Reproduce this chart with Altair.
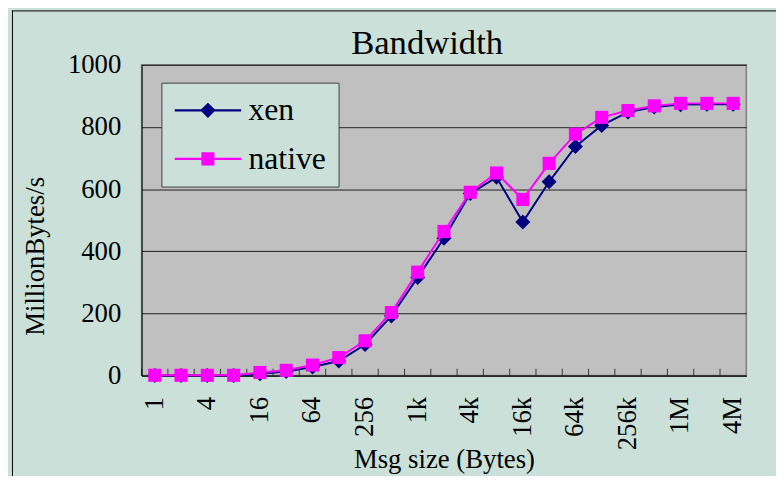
import altair as alt
import pandas as pd

# ---- data ----
sizes = ["1", "2", "4", "8", "16", "32", "64", "128", "256", "512",
         "1k", "2k", "4k", "8k", "16k", "32k", "64k", "128k", "256k", "512k",
         "1M", "2M", "4M"]
xen = [0, 0, 0, 0, 6, 13, 28, 47, 100, 192,
       316, 442, 586, 638, 494, 624, 737, 805, 848, 864,
       872, 873, 873]
native = [1, 1, 1, 1, 10, 17, 34, 58, 112, 203,
          333, 464, 590, 652, 567, 683, 777, 831, 853, 868,
          876, 876, 876]
series_names = ["xen", "native"]
shown_labels = ["1", "4", "16", "64", "256", "1k", "4k", "16k", "64k", "256k", "1M", "4M"]
y_ticks = [0, 200, 400, 600, 800, 1000]

# ---- styling ----
NAVY = "#000080"
MAGENTA = "#ff00ff"
BG = "#cbe0d8"
PLOT_BG = "#c0c0c0"
FONT = "Liberation Serif"

# legend glyphs: line segment + marker (filled paths)
PATH_XEN = ("M-1,-0.17H10.17V0.17H-1Z "
            "M4.585,-1.3L5.885,0L4.585,1.3L3.285,0Z")
PATH_NATIVE = ("M-1,-0.17H10.17V0.17H-1Z "
               "M3.485,-1.1H5.685V1.1H3.485Z")

df = pd.DataFrame({
    "size": sizes * 2,
    "value": xen + native,
    "series": ["xen"] * len(sizes) + ["native"] * len(sizes),
})

W, H = 611, 314

x_enc = alt.X(
    "size:N",
    sort=sizes,
    scale=alt.Scale(type="band", domain=sizes, paddingInner=0, paddingOuter=0),
    axis=alt.Axis(
        values=shown_labels,
        labelAngle=270, labelAlign="right", labelBaseline="middle",
        labelPadding=21, labelFont=FONT, labelFontSize=27, labelColor="black",
        ticks=False, grid=False, domainColor="black", domainWidth=1,
        title="Msg size (Bytes)", titleFont=FONT, titleFontSize=27,
        titleFontWeight="normal", titleColor="black",
        titleAlign="center", titleBaseline="alphabetic",
        titleX=W / 2, titleY=93,
    ),
)
y_enc = alt.Y(
    "value:Q",
    scale=alt.Scale(domain=[0, 1000], nice=False, zero=True),
    axis=alt.Axis(
        values=y_ticks, format="d",
        labelFont=FONT, labelFontSize=27, labelColor="black", labelPadding=21,
        ticks=False, grid=True, gridColor="#202020", gridWidth=1,
        domainColor="black", domainWidth=1,
        title="MillionBytes/s", titleFont=FONT, titleFontSize=27,
        titleFontWeight="normal", titleColor="black",
        titleAngle=270, titleAlign="center", titleBaseline="alphabetic",
        titleX=-99, titleY=193,
    ),
)

base = alt.Chart(df)

xen_line = base.transform_filter(alt.datum.series == "xen").mark_line(
    color=NAVY, strokeWidth=2).encode(x=x_enc, y=y_enc)
xen_pts = base.transform_filter(alt.datum.series == "xen").mark_point(
    shape="diamond", filled=True, size=230, color=NAVY, opacity=1).encode(x=x_enc, y=y_enc)
nat_line = base.transform_filter(alt.datum.series == "native").mark_line(
    color=MAGENTA, strokeWidth=2).encode(x=x_enc, y=y_enc)
nat_pts = base.transform_filter(alt.datum.series == "native").mark_point(
    shape="square", filled=True, size=175, color=MAGENTA, opacity=1).encode(x=x_enc, y=y_enc)

legend = alt.Legend(
    title=None, orient="none", legendX=20, legendY=18,
    fillColor=BG, strokeColor="#404040", padding=12,
    labelFont=FONT, labelFontSize=32, labelColor="black", labelOffset=52.5,
    symbolOffset=-8.5,
    symbolSize=144, symbolOpacity=1, symbolStrokeWidth=0, rowPadding=17,
)
legend_layer = base.mark_point(filled=True, opacity=0).encode(
    x=x_enc, y=y_enc,
    color=alt.Color("series:N", sort=series_names,
                    scale=alt.Scale(domain=series_names, range=[NAVY, MAGENTA]),
                    legend=legend),
    shape=alt.Shape("series:N", sort=series_names,
                    scale=alt.Scale(domain=series_names, range=[PATH_XEN, PATH_NATIVE]),
                    legend=legend),
)

# inward category ticks at band boundaries
ticks = alt.Chart(pd.DataFrame({"size": sizes})).mark_tick(
    orient="vertical", color="black", thickness=1, size=7, yOffset=-3.5
).encode(x=alt.X("size:N", sort=sizes, bandPosition=0), y=alt.datum(0))

# outer chart frame lines (decoration)
frame_df = pd.DataFrame({"a": [0]})
frame_left = alt.Chart(frame_df).mark_rule(color="black", strokeWidth=1).encode(
    x=alt.value(-130.5), y=alt.value(-55), y2=alt.value(420))
frame_top = alt.Chart(frame_df).mark_rule(color="black", strokeWidth=1).encode(
    x=alt.value(-131), x2=alt.value(650), y=alt.value(-54.5))

chart = alt.layer(
    frame_left, frame_top, ticks, xen_line, xen_pts, nat_line, nat_pts, legend_layer
).properties(
    width=W, height=H,
    title=alt.Title("Bandwidth", font=FONT, fontSize=35, fontWeight="normal",
                    color="black", anchor="middle", frame="group", dx=-17,
                    offset=-80, baseline="alphabetic"),
    autosize=alt.AutoSizeParams(type="none"),
    padding={"left": 135, "top": 55, "right": 30, "bottom": 99},
    background=BG,
).configure(
    font=FONT,
    style={"guide-label": {"font": FONT}, "guide-title": {"font": FONT}},
).configure_axis(
    labelFont=FONT, titleFont=FONT
).configure_legend(
    labelFont=FONT
).configure_view(
    fill=PLOT_BG, stroke="#808080", strokeWidth=1.5
)

chart.save("out.html", embed_options={"renderer": "svg", "actions": False})
